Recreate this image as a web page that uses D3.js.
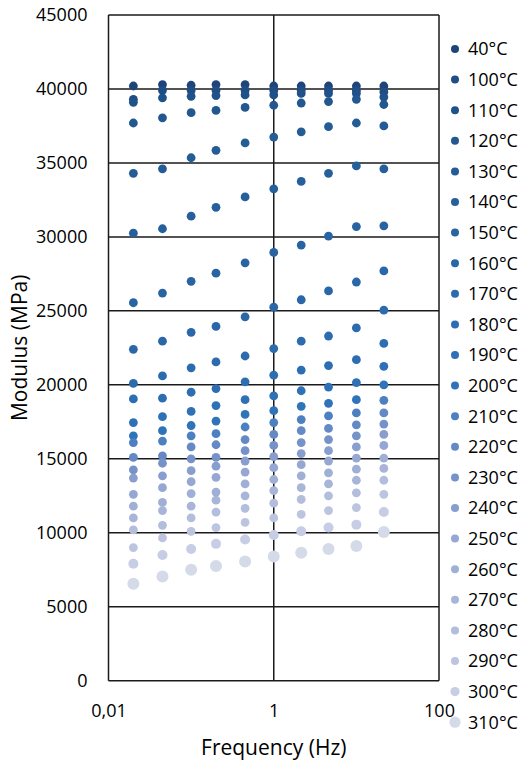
<!DOCTYPE html>
<html>
<head>
  <meta charset="UTF-8">
  <title>Modulus vs frequency</title>
  <script src="https://d3js.org/d3.v7.min.js"></script>
  <style>
    body { margin: 0; background: #fff; }
    text { font-family: "Open Sans", sans-serif; fill: #000; }
  </style>
</head>
<body>
  <div class="canvas"></div>
  <script>
    const width = 523;
    const height = 765;
    let [mt, mr, mb, ml] = [15, 84, 84, 108.5];

    // frequencies (Hz)
    const freqs = [0.02, 0.045, 0.1, 0.2, 0.45, 1, 2.15, 4.6, 10, 21.5];
    const temps = ['40°C', '100°C', '110°C', '120°C', '130°C', '140°C', '150°C', '160°C',
      '170°C', '180°C', '190°C', '200°C', '210°C', '220°C', '230°C', '240°C', '250°C',
      '260°C', '270°C', '280°C', '290°C', '300°C', '310°C'];

    // modulus (MPa), one row per temperature
    const s40 = [40200, 40300, 40250, 40300, 40300, 40200, 40200, 40200, 40200, 40200];
    const s100 = [39300, 39900, 39900, 39900, 39900, 39900, 39900, 39900, 39900, 39800];
    const s110 = [39100, 39400, 39500, 39550, 39600, 39600, 39700, 39700, 39700, 39450];
    const s120 = [37700, 38050, 38400, 38550, 38750, 38900, 39050, 39150, 39300, 38950];
    const s130 = [34300, 34600, 35350, 35850, 36350, 36750, 37100, 37450, 37700, 37500];
    const s140 = [30250, 30550, 31400, 32000, 32700, 33250, 33750, 34300, 34800, 34600];
    const s150 = [25550, 26200, 27000, 27550, 28250, 28950, 29450, 30050, 30700, 30750];
    const s160 = [22400, 22950, 23550, 23950, 24600, 25250, 25750, 26350, 26950, 27700];
    const s170 = [20100, 20600, 21150, 21550, 21950, 22450, 22950, 23300, 23850, 25050];
    const s180 = [19050, 19100, 19500, 19750, 20200, 20650, 21000, 21300, 21700, 22800];
    const s190 = [17450, 17850, 18200, 18600, 19000, 19250, 19600, 19850, 20150, 21250];
    const s200 = [16550, 16900, 17250, 17550, 18000, 18250, 18550, 18750, 19000, 20000];
    const s210 = [16100, 16200, 16550, 16700, 17150, 17450, 17650, 17900, 18100, 18950];
    const s220 = [15100, 15200, 15800, 15950, 16300, 16650, 16900, 17050, 17300, 18100];
    const s230 = [14250, 14700, 15000, 15100, 15550, 15900, 16100, 16300, 16550, 17350];
    const s240 = [13700, 13850, 14200, 14500, 14850, 15150, 15350, 15550, 15800, 16650];
    const s250 = [12600, 13050, 13450, 13750, 14100, 14400, 14600, 14850, 15050, 15900];
    const s260 = [11800, 12050, 12650, 12750, 13300, 13600, 13850, 14050, 14300, 15050];
    const s270 = [11000, 11500, 11800, 12200, 12500, 12850, 13050, 13300, 13550, 14350];
    const s280 = [10200, 10500, 11000, 11400, 11650, 12000, 12250, 12500, 12700, 13550];
    const s290 = [9000, 9650, 10100, 10350, 10700, 11000, 11250, 11500, 11700, 12600];
    const s300 = [7900, 8500, 8900, 9250, 9550, 9850, 10100, 10350, 10550, 11400];
    const s310 = [6550, 7050, 7500, 7750, 8050, 8400, 8650, 8900, 9100, 10050];

    const series = [s40, s100, s110, s120, s130, s140, s150, s160, s170, s180, s190, s200,
      s210, s220, s230, s240, s250, s260, s270, s280, s290, s300, s310];

    const colors = ['#1f4479', '#1f4d84', '#20528a', '#22578f', '#245c96', '#26609c', '#2863a2',
      '#2a67a8', '#2c6bad', '#2d6eb2', '#2e71b6', '#2f74b9', '#4c80c0', '#6589c5', '#7693c9',
      '#889ecf', '#95a7d2', '#a0afd6', '#a9b5d8', '#b3bddc', '#bcc4e0', '#c7cde5', '#d5dae8'];
    const radius = temps.map((t, i) => i === 22 ? 6 : i === 21 ? 5 : 4.4);

    const xTicks = [0.01, 1, 100];
    const yTicks = [0, 5000, 10000, 15000, 20000, 25000, 30000, 35000, 40000, 45000];

    const svg = d3.select('.canvas')
      .append('svg')
      .attr('width', width)
      .attr('height', height);

    const graphWidth = 439 - ml;
    const graphHeight = 680.7 - mt;

    const graph = svg.append('g')
      .attr('transform', `translate(${ml}, ${mt})`);

    const x = d3.scaleLog()
      .domain([0.01, 100])
      .range([0, graphWidth]);

    const y = d3.scaleLinear()
      .domain([0, 45000])
      .range([graphHeight, 0]);

    // grid lines
    graph.append('g')
      .selectAll('line')
      .data(yTicks)
      .enter()
      .append('line')
      .attr('x1', 0)
      .attr('x2', graphWidth)
      .attr('y1', d => y(d))
      .attr('y2', d => y(d))
      .attr('stroke', '#1a1a1a')
      .attr('stroke-width', 1.5);

    graph.append('g')
      .selectAll('line')
      .data(xTicks)
      .enter()
      .append('line')
      .attr('x1', d => x(d))
      .attr('x2', d => x(d))
      .attr('y1', 0)
      .attr('y2', graphHeight)
      .attr('stroke', '#1a1a1a')
      .attr('stroke-width', 1.5);

    // axes (labels only)
    const xAxis = d3.axisBottom(x)
      .tickValues(xTicks)
      .tickFormat(d => String(d).replace('.', ','))
      .tickSize(0)
      .tickPadding(24);
    const yAxis = d3.axisLeft(y)
      .tickValues(yTicks)
      .tickFormat(d => d)
      .tickSize(0)
      .tickPadding(21);

    const xAxisG = graph.append('g')
      .attr('transform', `translate(0, ${graphHeight})`)
      .call(xAxis);
    const yAxisG = graph.append('g').call(yAxis);
    [xAxisG, yAxisG].forEach(g => {
      g.select('.domain').remove();
      g.selectAll('text').attr('font-size', 18).attr('font-family', '"Open Sans", sans-serif');
    });

    // points
    graph.selectAll('.series')
      .data(series)
      .enter()
      .append('g')
      .attr('class', 'series')
      .attr('fill', (d, i) => colors[i])
      .each(function (vals, i) {
        d3.select(this).selectAll('circle')
          .data(vals)
          .enter()
          .append('circle')
          .attr('cx', (d, j) => x(freqs[j]))
          .attr('cy', d => y(d))
          .attr('r', radius[i]);
      });

    // axis titles
    svg.append('text')
      .attr('x', ml + graphWidth / 2)
      .attr('y', 755)
      .attr('text-anchor', 'middle')
      .attr('font-size', 21)
      .text('Frequency (Hz)');

    svg.append('text')
      .attr('transform', `translate(27, ${mt + graphHeight / 2}) rotate(-90)`)
      .attr('text-anchor', 'middle')
      .attr('font-size', 21)
      .text('Modulus (MPa)');

    // legend
    const legend = svg.append('g')
      .attr('transform', 'translate(455, 49)');
    const item = legend.selectAll('.item')
      .data(temps)
      .enter()
      .append('g')
      .attr('transform', (d, i) => `translate(0, ${i * 30.6})`);
    item.append('circle')
      .attr('r', (d, i) => radius[i] - 0.4)
      .attr('fill', (d, i) => colors[i]);
    item.append('text')
      .attr('x', 13)
      .attr('dy', '0.36em')
      .attr('font-size', 18)
      .text(d => d);
  </script>
</body>
</html>
